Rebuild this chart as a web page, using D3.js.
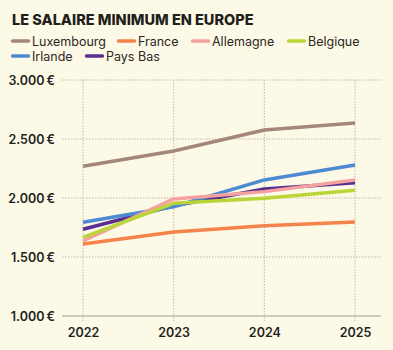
<!DOCTYPE html>
<html>
<head>
<meta charset="utf-8">
<script src="https://cdn.jsdelivr.net/npm/d3@7"></script>
<style>
  body { margin: 0; background: #fdf9e7; }
  svg { display: block; font-family: Inter, "Open Sans", sans-serif; }
</style>
</head>
<body>
<div id="chart-area"></div>
<script>
const W = 393, H = 350

const years = [2022, 2023, 2024, 2025]
const countries = ["Luxembourg", "France", "Allemagne", "Belgique", "Irlande", "Pays Bas"]
const colors = ["#a3887a", "#f5844c", "#f4a1a0", "#bad537", "#4c8bd1", "#5a2e91"]
const luxembourg = [2269, 2398, 2576, 2636]
const france = [1610, 1712, 1765, 1797]
const allemagne = [1636, 1992, 2054, 2153]
const belgique = [1667, 1955, 1997, 2065]
const irlande = [1794, 1926, 2153, 2280]
const paysBas = [1735, 1934, 2076, 2130]
const yTicks = [1000, 1500, 2000, 2500, 3000]

const seriesValues = [luxembourg, france, allemagne, belgique, irlande, paysBas]
const series = countries.map((name, i) => ({
  name, color: colors[i],
  values: years.map((y, j) => ({ year: y, value: seriesValues[i][j] }))
}))
// drawing order (which line sits on top)
const drawOrder = ["Pays Bas", "Irlande", "Allemagne", "Belgique", "France", "Luxembourg"]

const x = d3.scalePoint()
  .domain(years)
  .range([83, 355])

const y = d3.scaleLinear()
  .domain([1000, 3000])
  .range([316, 80])

const fmt = v => d3.format(",")(v).replace(",", ".") + "\u2009€"

const svg = d3.select("#chart-area").append("svg")
  .attr("width", W)
  .attr("height", H)

svg.append("rect").attr("width", W).attr("height", H).attr("fill", "#fdf9e7")

svg.append("text")
  .attr("x", 12).attr("y", 25)
  .attr("font-size", 14.5).attr("font-weight", 800)
  .attr("fill", "#231f1c")
  .text("LE SALAIRE MINIMUM EN EUROPE")

// legend
const legendPos = [[12, 41], [118, 41], [192, 41], [288, 41], [12, 56], [86, 56]]
const legend = svg.append("g")
  .selectAll("g")
  .data(series)
  .join("g")
    .attr("transform", (d, i) => `translate(${legendPos[i][0]},${legendPos[i][1]})`)
legend.append("line")
  .attr("x1", 0.5).attr("x2", 16.5)
  .attr("stroke", d => d.color)
  .attr("stroke-width", 3.5)
  .attr("stroke-linecap", "round")
legend.append("text")
  .attr("x", 20).attr("y", 4.5)
  .attr("font-size", 12.5)
  .attr("fill", "#2b2724")
  .text(d => d.name)

// horizontal grid
svg.append("g")
  .selectAll("line")
  .data(yTicks.filter(v => v !== 1000))
  .join("line")
    .attr("x1", 62).attr("x2", 381)
    .attr("y1", d => y(d)).attr("y2", d => y(d))
    .attr("stroke", "#bdb9ad")
    .attr("stroke-width", 1)
    .attr("stroke-dasharray", "1.5,1.5")

// vertical grid
svg.append("g")
  .selectAll("line")
  .data(years)
  .join("line")
    .attr("x1", d => x(d)).attr("x2", d => x(d))
    .attr("y1", y(3000)).attr("y2", y(1000) + 5)
    .attr("stroke", "#bdb9ad")
    .attr("stroke-width", 1)
    .attr("stroke-dasharray", "1.5,1.5")

// baseline
svg.append("line")
  .attr("x1", 62).attr("x2", 381)
  .attr("y1", y(1000)).attr("y2", y(1000))
  .attr("stroke", "#a09d96")
  .attr("stroke-width", 1.2)

// y axis labels
svg.append("g")
    .attr("transform", `translate(55,0)`)
    .call(d3.axisLeft(y).tickValues(yTicks).tickSize(0).tickPadding(0).tickFormat(fmt))
    .call(g => g.select(".domain").remove())
    .call(g => g.selectAll("text")
      .attr("font-family", "Inter, sans-serif")
      .attr("font-size", 12.5).attr("font-weight", 600)
      .attr("fill", "#231f1c"))

// x axis labels
svg.append("g")
    .attr("transform", `translate(0,${y(1000)})`)
    .call(d3.axisBottom(x).tickSize(0).tickPadding(12))
    .call(g => g.select(".domain").remove())
    .call(g => g.selectAll("text")
      .attr("font-family", "Inter, sans-serif")
      .attr("font-size", 12.5).attr("font-weight", 600)
      .attr("fill", "#231f1c"))

const line = d3.line()
  .x(d => x(d.year))
  .y(d => y(d.value))

svg.append("g")
  .selectAll("path")
  .data(drawOrder.map(n => series.find(s => s.name === n)))
  .join("path")
    .attr("fill", "none")
    .attr("stroke", d => d.color)
    .attr("stroke-width", 3.5)
    .attr("stroke-linejoin", "round")
    .attr("d", d => line(d.values))
</script>
</body>
</html>
